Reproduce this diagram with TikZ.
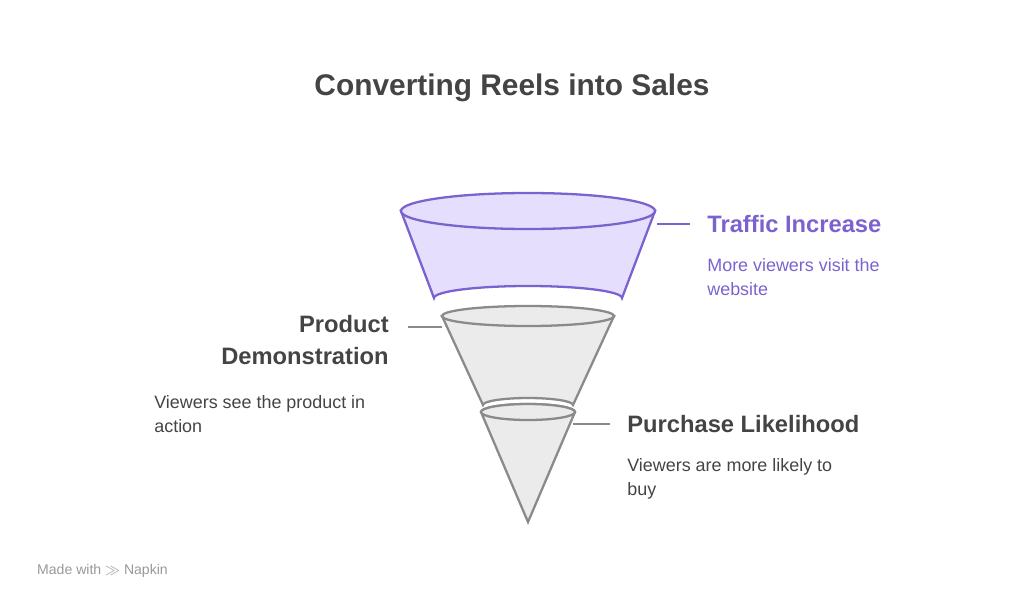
\documentclass[tikz,border=0pt]{standalone}
\usepackage{fontspec}
\setmainfont{Liberation Sans}
\definecolor{ink}{HTML}{444444}
\definecolor{violet}{HTML}{7B62CF}
\definecolor{lilac}{HTML}{E5DFFD}
\definecolor{shell}{HTML}{EBEBEB}
\definecolor{rim}{HTML}{8A8A8A}
\tikzset{
  head/.style={font=\bfseries\fontsize{13.5}{16}\selectfont, inner sep=0pt, text=ink},
  note/.style={font=\fontsize{10.2}{14}\selectfont, inner sep=0pt, text=ink, align=left},
  lead/.style={draw=rim, line width=1.2pt},
  stage/.style={fill=shell, draw=rim, line width=1.3pt},
}
\begin{document}
\begin{tikzpicture}[x=0.02cm,y=-0.02cm]
\useasboundingbox (0,0) rectangle (1024,608);
\node[font=\bfseries\fontsize{17}{20}\selectfont, text=ink] (title) at (512,88) {Converting Reels into Sales};
% bottom cone
\draw[stage] (481,412) -- (528,522) -- (575,412) arc (0:-180:47 and 8) -- cycle;
\draw[stage] (528,412) ellipse (47 and 8);
% middle section
\draw[stage] (442,316) -- (483,405) arc (180:360:45 and 7) -- (614,316) -- cycle;
\draw[stage] (528,316) ellipse (86 and 10);
% top section
\draw[stage, fill=lilac, draw=violet] (401,211) -- (434,298) arc (180:360:94 and 12) -- (655,211) -- cycle;
\draw[stage, fill=lilac, draw=violet] (528,211) ellipse (127 and 18);
% labels
\coordinate (t) at (657,224);
\node[head, text=violet, anchor=west] (traffic) at (707,224) {Traffic Increase};
\node[note, text=violet, anchor=north west] (trafficnote) at (707,258) {More viewers visit the\\website};
\draw[lead, draw=violet] (t) -- (traffic.west -| 690,0);
\coordinate (d) at (442,327);
\node[head, align=right, anchor=north east, font=\bfseries\fontsize{13.5}{18}\selectfont] (demo) at (389,315) {Product\\Demonstration};
\node[note, anchor=north west] (demonote) at (154,395) {Viewers see the product in\\action};
\draw[lead] (d) -- (408,327);
\coordinate (p) at (573,424);
\node[head, anchor=west] (buy) at (627,424) {Purchase Likelihood};
\node[note, anchor=north west] (buynote) at (627,458) {Viewers are more likely to\\buy};
\draw[lead] (p) -- (610,424);
\node[anchor=west, font=\fontsize{8}{10}\selectfont, text=gray!80] (made) at (31,571) {Made with \textbf{$\gg$} Napkin};
\end{tikzpicture}
\end{document}
